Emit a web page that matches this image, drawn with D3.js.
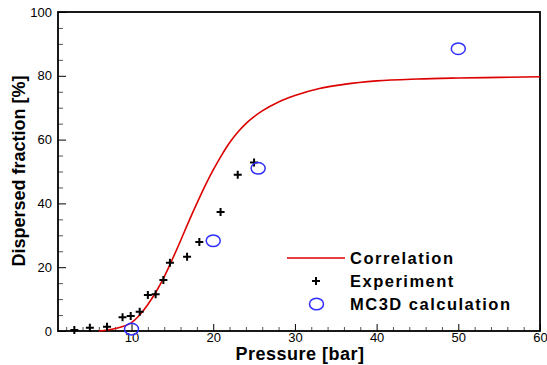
<!DOCTYPE html>
<html>
<head>
<meta charset="utf-8">
<script src="https://cdn.jsdelivr.net/npm/d3@7"></script>
<style>
  body { margin: 0; background: #fff; }
  svg { display: block; font-family: "Liberation Sans", Arial, sans-serif; }
</style>
</head>
<body>
<svg id="chart"></svg>
<script>
const width = 547;
const height = 365;

// correlation curve
const corrPressure = [6, 8, 10, 11, 12, 13, 14, 15, 16, 17, 18, 19, 20, 21, 22, 23, 24, 25, 26, 28, 30, 33, 36, 40, 45, 50, 55, 60];
const corrFraction = [0, 0.8, 2.6, 5, 8.3, 12.3, 17, 22.5, 28.3, 34.3, 40, 45.5, 50.5, 55, 59, 62.3, 65, 67.2, 69, 71.8, 73.8, 76, 77.3, 78.4, 79, 79.3, 79.5, 79.7];

// experiment points
const expPressure = [3, 4.9, 7, 8.9, 9.9, 11, 12, 12.95, 13.9, 14.7, 16.8, 18.3, 20.9, 23, 25];
const expFraction = [0.3, 1.0, 1.3, 4.3, 4.7, 6.0, 11.3, 11.5, 16.0, 21.4, 23.3, 27.9, 37.3, 49.0, 52.8];

// MC3D calculation
const mcPressure = [10, 20, 25.5, 50];
const mcFraction = [0.6, 28.3, 51.0, 88.5];

const xTicks = [10, 20, 30, 40, 50, 60];
const yTicks = [0, 20, 40, 60, 80, 100];

const margin = { left: 58, right: 7, top: 12, bottom: 34 };
const x = d3.scaleLinear().domain([1, 60]).range([margin.left, width - margin.right]);
const y = d3.scaleLinear().domain([0, 100]).range([height - margin.bottom, margin.top]);

const svg = d3.select("#chart").attr("width", width).attr("height", height);

// minor ticks
const xMinor = d3.range(2, 60, 2).filter((d) => d % 10 !== 0);
const yMinor = d3.range(5, 100, 5).filter((d) => d % 20 !== 0);

svg.append("g")
  .attr("transform", `translate(0,${y(0)})`)
  .call(d3.axisBottom(x).tickValues(xMinor).tickSize(-4).tickFormat(""))
  .call((g) => g.select(".domain").remove())
  .selectAll("line").attr("stroke", "#555");

svg.append("g")
  .attr("transform", `translate(${x(1)},0)`)
  .call(d3.axisLeft(y).tickValues(yMinor).tickSize(-5).tickFormat(""))
  .call((g) => g.select(".domain").remove())
  .selectAll("line").attr("stroke", "#555");

// major ticks
const xAxis = svg.append("g")
  .attr("transform", `translate(0,${y(0)})`)
  .call(d3.axisBottom(x).tickValues(xTicks).tickSize(-7).tickPadding(2))
  .call((g) => g.select(".domain").remove());
xAxis.selectAll("text").attr("font-size", 13).attr("font-family", "Liberation Sans, Arial").attr("fill", "#000");

const yAxis = svg.append("g")
  .attr("transform", `translate(${x(1)},0)`)
  .call(d3.axisLeft(y).tickValues(yTicks).tickSize(-8).tickPadding(6))
  .call((g) => g.select(".domain").remove());
yAxis.selectAll("text").attr("font-size", 13).attr("font-family", "Liberation Sans, Arial").attr("fill", "#000");

// frame
svg.append("rect")
  .attr("x", x(1)).attr("y", y(100))
  .attr("width", x(60) - x(1)).attr("height", y(0) - y(100))
  .attr("fill", "none").attr("stroke", "#000").attr("stroke-width", 1.8);

// correlation line
const corr = corrPressure.map((p, i) => [p, corrFraction[i]]);
svg.append("path")
  .datum(corr)
  .attr("fill", "none")
  .attr("stroke", "#dd0000")
  .attr("stroke-width", 1.6)
  .attr("d", d3.line().x((d) => x(d[0])).y((d) => y(d[1])).curve(d3.curveMonotoneX));

// experiment
const plus = "M-4,0H4M0,-4V4";
svg.selectAll(".exp")
  .data(expPressure.map((p, i) => [p, expFraction[i]]))
  .enter()
  .append("path")
  .attr("class", "exp")
  .attr("transform", (d) => `translate(${x(d[0])},${y(d[1])})`)
  .attr("d", plus)
  .attr("stroke", "#000")
  .attr("stroke-width", 2);

// MC3D
svg.selectAll(".mc")
  .data(mcPressure.map((p, i) => [p, mcFraction[i]]))
  .enter()
  .append("ellipse")
  .attr("class", "mc")
  .attr("cx", (d) => x(d[0]))
  .attr("cy", (d) => y(d[1]))
  .attr("rx", 7)
  .attr("ry", 5.8)
  .attr("fill", "none")
  .attr("stroke", "#2e2eff")
  .attr("stroke-width", 1.5);

// axis titles
svg.append("text")
  .attr("x", 300).attr("y", 360)
  .attr("text-anchor", "middle")
  .attr("font-size", 18).attr("font-weight", "bold").attr("letter-spacing", 0.5)
  .text("Pressure [bar]");

svg.append("text")
  .attr("transform", "translate(25,171) rotate(-90)")
  .attr("text-anchor", "middle")
  .attr("font-size", 18).attr("font-weight", "bold")
  .text("Dispersed fraction [%]");

// legend
const legend = svg.append("g");
const legendY = [258, 281, 304];
legend.append("line")
  .attr("x1", 287).attr("x2", 345).attr("y1", legendY[0]).attr("y2", legendY[0])
  .attr("stroke", "#dd0000").attr("stroke-width", 1.6);
legend.append("path")
  .attr("transform", `translate(316,${legendY[1]})`)
  .attr("d", plus).attr("stroke", "#000").attr("stroke-width", 2);
legend.append("ellipse")
  .attr("cx", 316.5).attr("cy", legendY[2]).attr("rx", 7).attr("ry", 5.8)
  .attr("fill", "none").attr("stroke", "#2e2eff").attr("stroke-width", 1.5);
const legendLabels = ["Correlation", "Experiment", "MC3D calculation"];
legend.selectAll(".lbl")
  .data(legendLabels)
  .enter()
  .append("text")
  .attr("class", "lbl")
  .attr("x", 350)
  .attr("y", (d, i) => legendY[i] + 5.5)
  .attr("font-size", 16.5).attr("font-weight", "bold").attr("letter-spacing", 1.5)
  .text((d) => d);
</script>
</body>
</html>
